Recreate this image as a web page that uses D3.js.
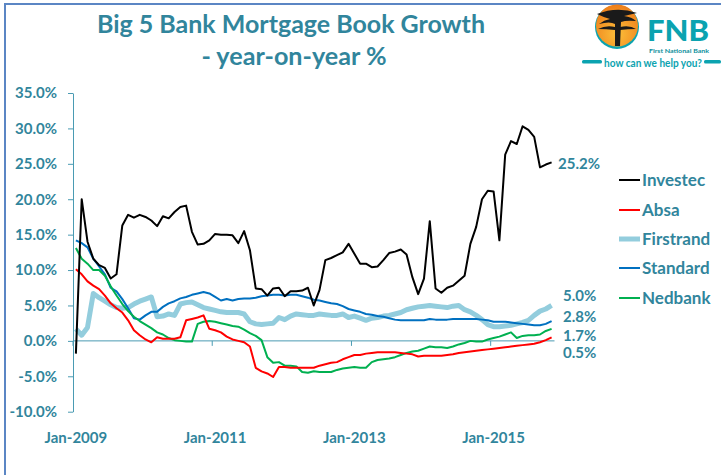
<!DOCTYPE html>
<html>
<head>
<meta charset="utf-8">
<script src="https://cdn.jsdelivr.net/npm/d3@7"></script>
<style>
  body { margin: 0; background: #fff; }
  svg { display: block; font-family: Lato, "Open Sans", sans-serif; font-weight: bold; }
</style>
</head>
<body>
<script>
// Series values, year-on-year %, monthly Jan-2009 .. Nov-2015
const investec = [-1.8,20.0,14.0,11.6,10.7,10.3,8.8,9.4,16.3,17.8,17.4,17.8,17.5,17.0,16.2,17.6,17.3,18.2,18.9,19.1,15.4,
  13.6,13.7,14.2,15.1,15.0,15.0,14.9,13.8,15.5,12.8,7.4,7.3,6.4,7.4,7.5,6.3,7.0,7.0,7.1,7.5,5.0,
  7.2,11.4,11.7,12.1,12.5,13.7,12.3,10.9,10.9,10.4,10.5,11.4,12.4,12.6,12.9,12.2,9.0,6.6,8.8,16.9,
  7.4,6.8,7.5,7.8,8.5,9.2,13.7,16.1,20.0,21.2,21.1,14.2,26.3,28.2,27.8,30.3,29.8,28.8,24.5,24.9,25.2];
const absa = [10.1,9.4,8.4,7.8,7.3,6.4,5.3,4.6,4.0,2.9,1.5,0.8,0.2,-0.2,0.5,0.3,0.3,0.3,0.5,2.9,3.1,
  3.3,3.6,1.7,1.5,1.2,0.6,0.2,0.0,-0.2,-0.8,-3.8,-4.3,-4.6,-5.1,-3.7,-3.7,-3.8,-3.8,-3.8,-3.8,-3.8,
  -3.5,-3.3,-3.1,-3.0,-2.6,-2.3,-2.0,-2.0,-1.8,-1.7,-1.6,-1.6,-1.6,-1.6,-1.7,-1.8,-1.9,-2.2,-2.1,-2.1,
  -2.1,-2.1,-2.0,-1.9,-1.7,-1.6,-1.5,-1.4,-1.3,-1.2,-1.1,-1.0,-0.9,-0.8,-0.7,-0.6,-0.5,-0.4,-0.2,0.1,0.5];
const firstrand = [1.7,0.8,1.9,6.7,6.1,5.6,5.1,4.7,4.6,4.7,5.2,5.6,5.9,6.2,3.4,3.5,3.8,3.6,5.2,5.4,5.5,
  5.1,4.7,4.5,4.3,4.1,4.0,4.0,4.0,3.8,2.7,2.4,2.3,2.4,2.5,3.3,3.0,3.5,3.8,3.7,3.6,3.6,
  3.8,3.7,3.6,3.6,3.8,3.3,3.5,3.2,2.9,3.2,3.3,3.5,3.6,3.8,4.0,4.4,4.6,4.8,4.9,5.0,
  4.9,4.8,4.7,4.9,5.0,4.4,4.1,3.6,3.0,2.3,2.0,2.0,2.1,2.2,2.4,2.6,2.9,3.6,4.2,4.5,5.0];
const standard = [14.2,13.8,13.2,11.6,10.5,9.4,7.5,7.0,5.9,4.6,3.2,3.0,3.6,4.1,4.1,4.8,5.3,5.6,6.0,6.2,6.5,
  6.7,6.9,6.7,6.2,5.7,5.9,5.7,5.9,6.0,6.0,6.1,6.3,6.4,6.5,6.5,6.4,6.5,6.5,6.3,6.1,5.8,
  5.7,5.5,5.3,5.2,4.9,4.5,4.3,4.1,3.8,3.7,3.5,3.4,3.2,3.0,2.9,2.9,2.9,2.9,2.9,3.1,
  3.0,3.0,3.0,3.1,3.1,3.1,3.1,3.1,3.0,2.9,2.7,2.7,2.7,2.6,2.5,2.4,2.3,2.2,2.2,2.4,2.8];
const nedbank = [13.1,11.6,10.9,10.0,10.0,9.2,7.7,6.4,5.2,4.2,3.4,2.8,2.3,1.8,1.2,0.9,0.4,0.1,0.0,-0.1,-0.1,
  2.4,2.7,2.8,2.7,2.5,2.3,2.1,2.0,1.6,1.1,0.7,0.1,-2.3,-3.1,-3.0,-3.5,-3.5,-3.6,-4.4,-4.5,-4.3,
  -4.4,-4.4,-4.4,-4.1,-3.9,-3.8,-3.7,-3.8,-3.8,-3.0,-2.7,-2.6,-2.5,-2.3,-2.0,-1.7,-1.5,-1.4,-1.1,-0.8,
  -0.9,-0.9,-1.0,-0.8,-0.5,-0.3,0.0,-0.1,-0.1,0.2,0.4,0.6,0.9,1.2,0.4,0.7,0.8,0.8,0.9,1.4,1.7];

const seriesNames = ["Investec", "Absa", "Firstrand", "Standard", "Nedbank"];
const yTicks = [-10, -5, 0, 5, 10, 15, 20, 25, 30, 35];
const xTickLabels = ["Jan-2009", "Jan-2011", "Jan-2013", "Jan-2015"];
const endLabels = ["25.2%", "5.0%", "2.8%", "1.7%", "0.5%"];

const months = d3.timeMonth.range(new Date(2009, 0, 1), new Date(2015, 10, 2));

const series = [
  { name: "Investec", values: investec, color: "#000000", w: 2 },
  { name: "Absa", values: absa, color: "#ff0000", w: 2 },
  { name: "Firstrand", values: firstrand, color: "#93cddd", w: 5 },
  { name: "Standard", values: standard, color: "#0070c0", w: 2 },
  { name: "Nedbank", values: nedbank, color: "#00b050", w: 2 }
];

const teal = "#31859c";
const axisColor = "#4a9bb3";

const svg = d3.select("body").append("svg")
    .attr("width", 721)
    .attr("height", 475);

// frame
svg.append("path")
    .attr("d", "M5,475 V4 H721")
    .attr("fill", "none")
    .attr("stroke", "#5b86c4")
    .attr("stroke-width", 2);

// title
const title = svg.append("g").attr("fill", teal).attr("text-anchor", "middle");
title.append("text")
    .attr("x", 291).attr("y", 33)
    .attr("font-size", 25)
    .attr("textLength", 388).attr("lengthAdjust", "spacingAndGlyphs")
    .text("Big 5 Bank Mortgage Book Growth");
title.append("text")
    .attr("x", 294).attr("y", 65)
    .attr("font-size", 25)
    .attr("textLength", 185).attr("lengthAdjust", "spacingAndGlyphs")
    .text("- year-on-year %");

// scales
const x = d3.scaleBand().domain(months).range([73, 554.5]);
const y = d3.scaleLinear().domain([-10, 35]).range([411.7, 93]);
const cx = d => x(d) + x.bandwidth() / 2;

// y axis
const yAxis = svg.append("g")
    .attr("transform", "translate(73,0)")
    .call(d3.axisLeft(y).tickValues(yTicks).tickFormat(d => d.toFixed(1) + "%")
      .tickSizeInner(5).tickSizeOuter(0).tickPadding(11));
yAxis.select(".domain").attr("stroke", axisColor);
yAxis.selectAll(".tick line").attr("stroke", axisColor);
yAxis.selectAll("text")
    .attr("fill", teal)
    .attr("font-size", 15)
    .attr("font-family", "Lato, sans-serif")
    .attr("font-weight", "bold");

// zero line with category tick marks
svg.append("line")
    .attr("x1", 73).attr("x2", 554.5)
    .attr("y1", y(0)).attr("y2", y(0))
    .attr("stroke", axisColor);
const tickMonths = months.filter((d, i) => i % 24 === 0);
svg.append("g").selectAll("line")
    .data(tickMonths)
  .enter().append("line")
    .attr("x1", d => x(d)).attr("x2", d => x(d))
    .attr("y1", y(0)).attr("y2", y(0) + 5)
    .attr("stroke", axisColor);

// x labels at the bottom
svg.append("g").selectAll("text")
    .data(tickMonths)
  .enter().append("text")
    .attr("x", d => cx(d))
    .attr("y", 443)
    .attr("text-anchor", "middle")
    .attr("fill", teal)
    .attr("font-size", 15)
    .text((d, i) => xTickLabels[i]);

// lines
const line = d3.line()
    .x((d, i) => cx(months[i]))
    .y(d => y(d));

// draw order: Firstrand underneath the thin lines
const drawOrder = [2, 3, 4, 1, 0];
svg.append("g").selectAll("path")
    .data(drawOrder.map(i => series[i]))
  .enter().append("path")
    .attr("d", d => line(d.values))
    .attr("fill", "none")
    .attr("stroke", d => d.color)
    .attr("stroke-width", d => d.w)
    .attr("stroke-linejoin", "round");

// end labels
const endPos = [[558, 164], [563, 296], [563, 317], [563, 336], [563, 353]];
svg.append("g").selectAll("text")
    .data(endLabels)
  .enter().append("text")
    .attr("x", (d, i) => endPos[i][0])
    .attr("y", (d, i) => endPos[i][1])
    .attr("dy", "0.35em")
    .attr("fill", teal)
    .attr("font-size", 15)
    .text(d => d);

// legend
const legend = svg.append("g").selectAll("g")
    .data(series)
  .enter().append("g")
    .attr("transform", (d, i) => "translate(619," + [180, 210, 239, 268, 298][i] + ")");
legend.append("line")
    .attr("x1", 0).attr("x2", 21)
    .attr("stroke", d => d.color)
    .attr("stroke-width", d => d.w);
legend.append("text")
    .attr("x", 23)
    .attr("dy", "0.35em")
    .attr("fill", teal)
    .attr("font-size", 17)
    .text((d, i) => seriesNames[i]);

// FNB logo
const logo = svg.append("g");
const grad = svg.append("defs").append("radialGradient")
    .attr("id", "sun").attr("cx", "50%").attr("cy", "70%").attr("r", "70%");
grad.append("stop").attr("offset", "0%").attr("stop-color", "#fbbf3a");
grad.append("stop").attr("offset", "100%").attr("stop-color", "#ee7d1a");
logo.append("circle").attr("cx", 617).attr("cy", 27).attr("r", 22).attr("fill", "#0ba3b0");
logo.append("circle").attr("cx", 617).attr("cy", 25.5).attr("r", 21).attr("fill", "url(#sun)");
logo.append("path")
    .attr("d", "M597,14 Q617,6 637,13 Q628,15 624,16 Q632,17 636,21 Q626,20 621,22 L620,46 L615,46 L615,24 Q610,21 599,24 Q604,20 610,19 Q603,17 597,14 Z")
    .attr("fill", "#1a1a1a");
logo.append("path")
    .attr("d", "M598,29 Q606,25 615,27 L615,30 Q606,29 598,29 Z M620,27 Q630,25 636,29 Q628,29 620,30 Z")
    .attr("fill", "#1a1a1a");
logo.append("text")
    .attr("x", 647).attr("y", 41)
    .attr("fill", "#0ba3b0")
    .attr("font-size", 28)
    .attr("font-weight", 900)
    .attr("textLength", 62).attr("lengthAdjust", "spacingAndGlyphs")
    .text("FNB");
logo.append("text")
    .attr("x", 649).attr("y", 52.5)
    .attr("fill", "#0b8f9c")
    .attr("font-size", 5.5)
    .attr("textLength", 60).attr("lengthAdjust", "spacingAndGlyphs")
    .text("First National Bank");
logo.append("rect").attr("x", 582).attr("y", 60).attr("width", 20).attr("height", 3.5).attr("rx", 1.5).attr("fill", "#0ba3b0");
logo.append("rect").attr("x", 704).attr("y", 60).attr("width", 17).attr("height", 3.5).attr("rx", 1.5).attr("fill", "#0ba3b0");
logo.append("text")
    .attr("x", 604).attr("y", 66.5)
    .attr("fill", "#0ba3b0")
    .attr("font-size", 11.5)
    .attr("textLength", 98).attr("lengthAdjust", "spacingAndGlyphs")
    .text("how can we help you?");
</script>
</body>
</html>
